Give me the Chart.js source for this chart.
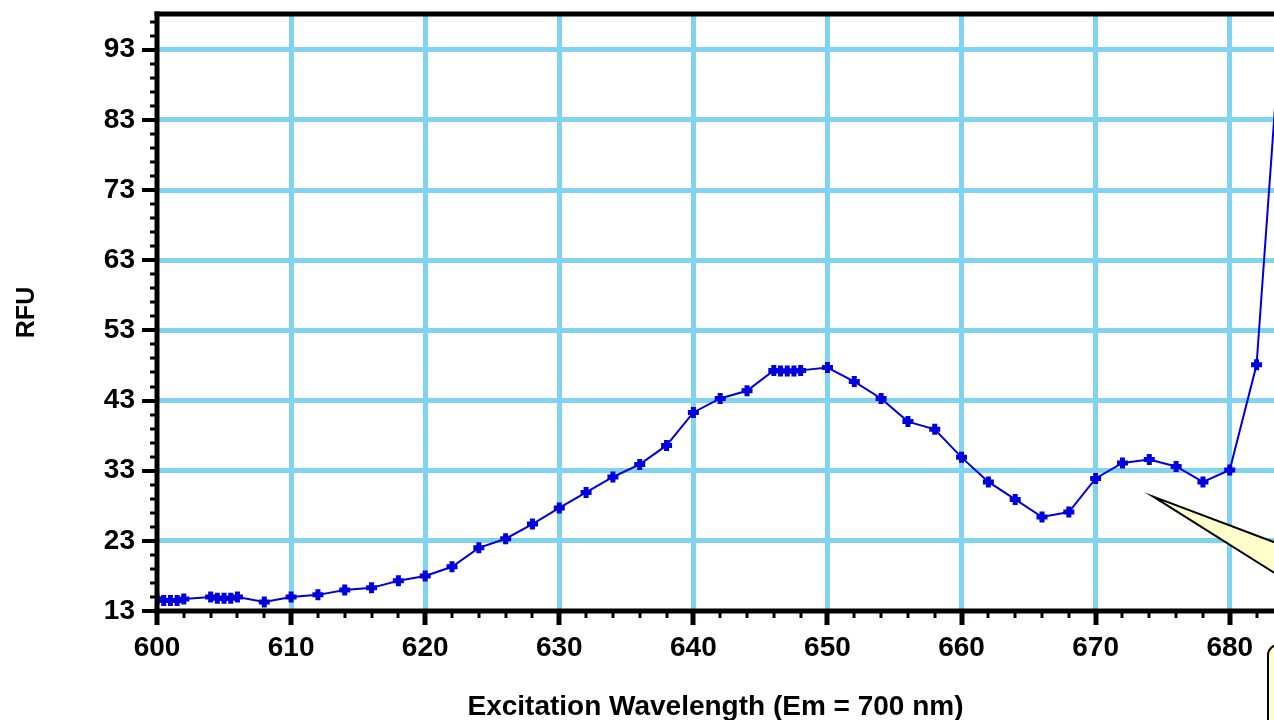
<!DOCTYPE html>
<html>
<head>
<meta charset="utf-8">
<script src="https://cdn.jsdelivr.net/npm/chart.js@4/dist/chart.umd.min.js"></script>
<style>
  html, body { margin: 0; padding: 0; background: #fff; overflow: hidden; }
  #wrap { width: 1274px; height: 720px; }
</style>
</head>
<body>
<div id="wrap"><canvas id="rfuChart" width="1274" height="720"></canvas></div>
<script>
// wavelength (nm) and RFU
const wavelengths = [600, 600.5, 601, 601.5, 602, 604, 604.5, 605, 605.5, 606, 608, 610, 612, 614, 616, 618, 620,
    622, 624, 626, 628, 630, 632, 634, 636, 638, 640, 642, 644, 646, 646.5, 647, 647.5, 648, 650,
    652, 654, 656, 658, 660, 662, 664, 666, 668, 670, 672, 674, 676, 678, 680, 682, 684];
const rfu = [14.7, 14.5, 14.5, 14.5, 14.7, 15.0, 14.8, 14.8, 14.8, 15.0, 14.3, 15.0, 15.3, 16.0, 16.3, 17.3, 18.0,
    19.3, 22.0, 23.3, 25.4, 27.7, 29.9, 32.1, 33.9, 36.6, 41.3, 43.3, 44.4, 47.3, 47.2, 47.2, 47.2, 47.3, 47.7,
    45.7, 43.3, 40.0, 38.9, 34.9, 31.4, 28.9, 26.4, 27.1, 31.9, 34.1, 34.6, 33.6, 31.4, 33.1, 48.1, 101.5];
const xTicks = [600, 610, 620, 630, 640, 650, 660, 670, 680];
const yTicks = [13, 23, 33, 43, 53, 63, 73, 83, 93];

const GRID = '#80d4f2';
const FONT = '"Liberation Sans", Arial, sans-serif';

// axis lines, minor ticks and the callout drawn by hand
const framePlugin = {
    id: 'frame',
    afterDatasetsDraw(chart) {
        const c = chart.ctx, a = chart.chartArea;
        const xs = chart.scales.x, ys = chart.scales.y;
        c.save();
        c.fillStyle = '#000';
        // x minor/major ticks
        for (let v = 600; v <= xs.max; v += 2) {
            const px = Math.round(xs.getPixelForValue(v));
            if (v % 10 === 0) c.fillRect(px - 2.5, a.bottom, 5, 14);
            else c.fillRect(px - 1.5, a.bottom, 3, 7);
        }
        // y minor/major ticks
        for (let v = 13; v <= ys.max; v += 2) {
            const py = Math.round(ys.getPixelForValue(v));
            if ((v - 13) % 10 === 0) c.fillRect(a.left - 15, py - 2, 15, 4);
            else c.fillRect(a.left - 7, py - 1.5, 7, 3);
        }
        // axis lines
        c.fillRect(a.left - 2.5, a.top - 2.5, 5, a.bottom - a.top + 5);
        c.fillRect(a.left - 2.5, a.bottom - 2.5, a.right - a.left + 5, 5);
        c.fillRect(a.left - 2.5, a.top - 2.5, a.right - a.left + 5, 5);

        // callout pointer
        const tx = xs.getPixelForValue(674.3), ty = ys.getPixelForValue(29.3);
        c.beginPath();
        c.moveTo(tx, ty);
        c.lineTo(1300, 552);
        c.lineTo(1300, 589);
        c.closePath();
        c.fillStyle = '#ffffcc';
        c.fill();
        c.lineWidth = 2;
        c.strokeStyle = '#000';
        c.stroke();
        // callout box (cut off)
        c.beginPath();
        c.roundRect(1268, 645, 120, 120, 10);
        c.fillStyle = '#ffffcc';
        c.fill();
        c.lineWidth = 2;
        c.stroke();
        c.restore();
    }
};

const ctx = document.getElementById('rfuChart').getContext('2d');
const rfuChart = new Chart(ctx, {
    type: 'scatter',
    data: {
        datasets: [{
            label: 'RFU',
            data: wavelengths.map((w, i) => ({ x: w, y: rfu[i] })),
            showLine: true,
            borderColor: '#0000dd',
            backgroundColor: '#0000dd',
            borderWidth: 2,
            pointStyle: 'cross',
            pointRadius: 5.5,
            pointBorderWidth: 5,
            pointHoverRadius: 5.5
        }]
    },
    options: {
        responsive: false,
        animation: false,
        layout: { autoPadding: false, padding: { top: 14, right: 0, left: 0, bottom: 0 } },
        plugins: {
            legend: { display: false },
            tooltip: { enabled: false }
        },
        scales: {
            x: {
                type: 'linear',
                min: 600,
                max: 683.3,
                afterBuildTicks: s => { s.ticks = xTicks.map(v => ({ value: v })); },
                afterFit: s => {
                    s.height = 109;
                    s.paddingLeft = 0; s.paddingRight = 0;
                },
                grid: {
                    color: ctx => ctx.tick && ctx.tick.value === 600 ? 'rgba(0,0,0,0)' : GRID,
                    lineWidth: 5,
                    drawTicks: false
                },
                border: { display: false },
                ticks: {
                    color: '#000',
                    padding: 20,
                    maxRotation: 0,
                    font: { family: FONT, size: 28, weight: 'bold' }
                },
                title: {
                    display: true,
                    text: 'Excitation Wavelength (Em = 700 nm)',
                    color: '#000',
                    padding: { top: 0, bottom: -4 },
                    font: { family: FONT, size: 28, weight: 'bold' }
                }
            },
            y: {
                min: 13,
                max: 98.1,
                afterBuildTicks: s => { s.ticks = yTicks.map(v => ({ value: v })); },
                afterFit: s => {
                    s.width = 157;
                    s.paddingTop = 0; s.paddingBottom = 0;
                },
                grid: {
                    color: ctx => ctx.tick && ctx.tick.value === 13 ? 'rgba(0,0,0,0)' : GRID,
                    lineWidth: 5,
                    drawTicks: false
                },
                border: { display: false },
                ticks: {
                    color: '#000',
                    padding: 22,
                    font: { family: FONT, size: 28, weight: 'bold' }
                },
                title: {
                    display: true,
                    text: 'RFU',
                    color: '#000',
                    padding: { top: 12, bottom: 0 },
                    font: { family: FONT, size: 25, weight: 'bold' }
                }
            }
        }
    },
    plugins: [framePlugin]
});
</script>
</body>
</html>
